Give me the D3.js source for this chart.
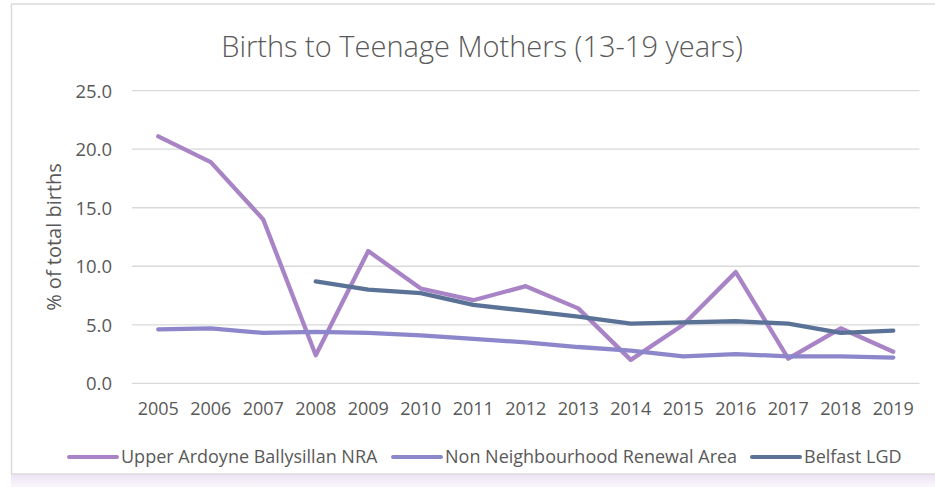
<!DOCTYPE html>
<html>
<head>
<meta charset="utf-8">
<script src="https://cdn.jsdelivr.net/npm/d3@7"></script>
<style>
  body { margin: 0; background: #fff; }
  svg { display: block; font-family: "Open Sans", "Noto Sans", sans-serif; }
</style>
</head>
<body>
<svg id="chart" width="935" height="487"></svg>
<script>
var years = [2005, 2006, 2007, 2008, 2009, 2010, 2011, 2012, 2013, 2014, 2015, 2016, 2017, 2018, 2019];
var nraValues = [21.1, 18.9, 14.0, 2.4, 11.3, 8.1, 7.1, 8.3, 6.4, 2.0, 5.0, 9.5, 2.1, 4.7, 2.7];
var nonNraValues = [4.6, 4.7, 4.3, 4.4, 4.3, 4.1, 3.8, 3.5, 3.1, 2.8, 2.3, 2.5, 2.3, 2.3, 2.2];
var belfastValues = [null, null, null, 8.7, 8.0, 7.7, 6.7, 6.2, 5.7, 5.1, 5.2, 5.3, 5.1, 4.3, 4.5];
var yTicks = [0, 5, 10, 15, 20, 25];
var seriesNames = ["Upper Ardoyne Ballysillan NRA", "Non Neighbourhood Renewal Area", "Belfast LGD"];

var series = [
  { name: seriesNames[0], values: nraValues, colour: "#A884C6" },
  { name: seriesNames[1], values: nonNraValues, colour: "#8B87CA" },
  { name: seriesNames[2], values: belfastValues, colour: "#5B7297" }
];

var svg = d3.select("#chart");

// frame
var defs = svg.append("defs");
var grad = defs.append("linearGradient").attr("id", "shade")
  .attr("x1", 0).attr("y1", 0).attr("x2", 0).attr("y2", 1);
grad.append("stop").attr("offset", 0).attr("stop-color", "#ece2f3");
grad.append("stop").attr("offset", 1).attr("stop-color", "#faf7fc");
svg.append("rect").attr("x", 11).attr("y", 474).attr("width", 924).attr("height", 13).attr("fill", "url(#shade)");
svg.append("rect").attr("x", 11.5).attr("y", 4).attr("width", 930).attr("height", 470)
  .attr("fill", "#fff").attr("stroke", "#dcdcdc").attr("stroke-width", 1.5);

var plotLeft = 132, plotRight = 919.5, plotTop = 90.7, plotBottom = 383.3;

var x = d3.scaleBand().domain(years).range([plotLeft, plotRight]);
var y = d3.scaleLinear().domain([0, 25]).range([plotBottom, plotTop]);

// gridlines
svg.append("g").selectAll("line").data(yTicks).enter().append("line")
  .attr("x1", plotLeft).attr("x2", plotRight)
  .attr("y1", function(d) { return y(d); }).attr("y2", function(d) { return y(d); })
  .attr("stroke", "#d9d9d9").attr("stroke-width", 1.3);

// y axis
var yAxis = svg.append("g").attr("transform", "translate(" + 112 + ",0)")
  .call(d3.axisLeft(y).tickValues(yTicks).tickFormat(d3.format(".1f")).tickSize(0).tickPadding(0));
yAxis.attr("font-family", null).attr("font-size", null);
yAxis.select(".domain").remove();
yAxis.selectAll("text").attr("fill", "#595959").style("font-size", "18.5px").attr("dy", "0.35em");

// x axis
var xAxis = svg.append("g").attr("transform", "translate(0," + 402 + ")")
  .call(d3.axisBottom(x).tickSize(0).tickPadding(0));
xAxis.attr("font-family", null).attr("font-size", null);
xAxis.select(".domain").remove();
xAxis.selectAll("text").attr("fill", "#595959").style("font-size", "18px").attr("dy", "0.71em");

// lines
var line = d3.line()
  .defined(function(d) { return d.v != null; })
  .x(function(d) { return x(d.year) + x.bandwidth() / 2; })
  .y(function(d) { return y(d.v); });

series.forEach(function(s) {
  var pts = years.map(function(yr, i) { return { year: yr, v: s.values[i] }; });
  svg.append("path").datum(pts)
    .attr("fill", "none")
    .attr("stroke", s.colour)
    .attr("stroke-width", 4.3)
    .attr("stroke-linejoin", "round")
    .attr("stroke-linecap", "round")
    .attr("d", line);
});

// title
svg.append("text").attr("x", 482).attr("y", 57).attr("text-anchor", "middle")
  .attr("fill", "#595959").style("font-size", "29px").style("font-weight", 300)
  .text("Births to Teenage Mothers (13-19 years)");

// y axis title
svg.append("text").attr("transform", "translate(61,237) rotate(-90)")
  .attr("text-anchor", "middle").attr("fill", "#595959").style("font-size", "20px")
  .text("% of total births");

// legend
var legendX = [69, 393, 752];
var legend = svg.append("g");
series.forEach(function(s, i) {
  var g = legend.append("g").attr("transform", "translate(" + legendX[i] + ",457)");
  g.append("line").attr("x1", 0).attr("x2", 48).attr("y1", 0).attr("y2", 0)
    .attr("stroke", s.colour).attr("stroke-width", 4).attr("stroke-linecap", "round");
  g.append("text").attr("x", 52).attr("y", 0).attr("dy", "0.35em")
    .attr("fill", "#595959").style("font-size", "18px").text(s.name);
});
</script>
</body>
</html>
